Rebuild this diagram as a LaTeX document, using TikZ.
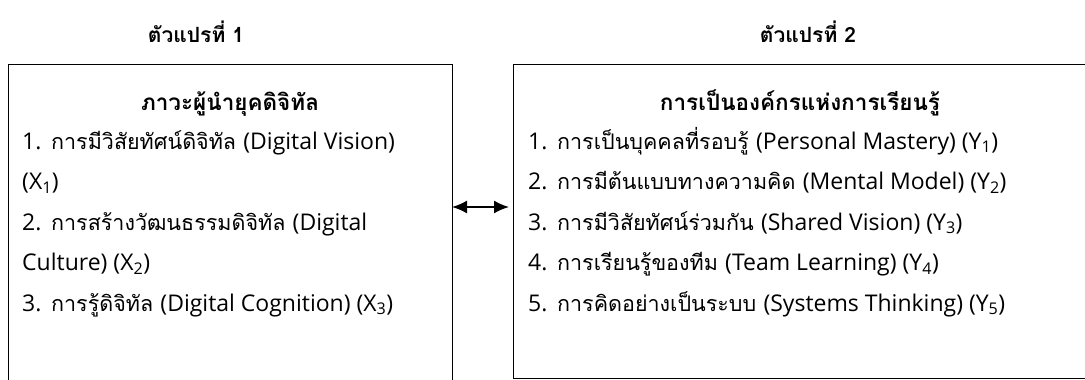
\documentclass[tikz,border=0pt]{standalone}
\usepackage{fontspec}
\setmainfont[Script=Thai]{Loma}
\newfontfamily\latinpart{Open Sans}
\newcommand{\lt}[1]{{\latinpart\fontsize{23}{26}\selectfont #1}}
\usetikzlibrary{arrows.meta}

\begin{document}
\begin{tikzpicture}[x=1pt,y=-1pt,
  item/.style={anchor=base west,inner sep=0pt,font=\fontsize{21.5}{26}\selectfont},
  boxhead/.style={anchor=base,inner sep=0pt,font=\bfseries\fontsize{22.5}{26}\selectfont},
  varhead/.style={anchor=base,inner sep=0pt,font=\bfseries\fontsize{21}{24}\selectfont}]
  \useasboundingbox (0,0) rectangle (1085,380);
  \clip (0,0) rectangle (1085,380);
  % headings above the boxes
  \node[varhead] (var1) at (196,42) {ตัวแปรที่ 1};
  \node[varhead] (var2) at (808,42) {ตัวแปรที่ 2};
  % the two boxes
  \draw[line width=1pt] (8,420) -- (8,64) -- (452,64) -- (452,420);
  \draw[line width=1pt] (1095,64) -- (513,64) -- (513,378) -- (1095,378);
  \coordinate (boxL) at (452,207);
  \coordinate (boxR) at (509,207);
  % left box
  \node[boxhead] (leadhead) at (230,110) {ภาวะผู้นำยุคดิจิทัล};
  \node[item] (x1a) at (22,149) {\lt{1.} การมีวิสัยทัศน์ดิจิทัล \lt{(Digital Vision)}};
  \node[item] (x1b) at (22,189.5) {\lt{(X\textsubscript{1})}};
  \node[item] (x2a) at (22,230) {\lt{2.} การสร้างวัฒนธรรมดิจิทัล \lt{(Digital}};
  \node[item] (x2b) at (22,270.5) {\lt{Culture) (X\textsubscript{2})}};
  \node[item] (x3) at (22,311) {\lt{3.} การรู้ดิจิทัล \lt{(Digital Cognition) (X\textsubscript{3})}};
  % right box
  \node[boxhead] (orghead) at (800,110) {การเป็นองค์กรแห่งการเรียนรู้};
  \node[item] (y1) at (528,149) {\lt{1.} การเป็นบุคคลที่รอบรู้ \lt{(Personal Mastery) (Y\textsubscript{1})}};
  \node[item] (y2) at (528,189.5) {\lt{2.} การมีต้นแบบทางความคิด \lt{(Mental Model) (Y\textsubscript{2})}};
  \node[item] (y3) at (528,230) {\lt{3.} การมีวิสัยทัศน์ร่วมกัน \lt{(Shared Vision) (Y\textsubscript{3})}};
  \node[item] (y4) at (528,270.5) {\lt{4.} การเรียนรู้ของทีม \lt{(Team Learning) (Y\textsubscript{4})}};
  \node[item] (y5) at (528,311) {\lt{5.} การคิดอย่างเป็นระบบ \lt{(Systems Thinking) (Y\textsubscript{5})}};
  % relation between the two variables
  \draw[{Latex[length=15pt,width=13pt]}-{Latex[length=15pt,width=13pt]},line width=1.8pt] (boxL) -- (boxR);
\end{tikzpicture}
\end{document}
